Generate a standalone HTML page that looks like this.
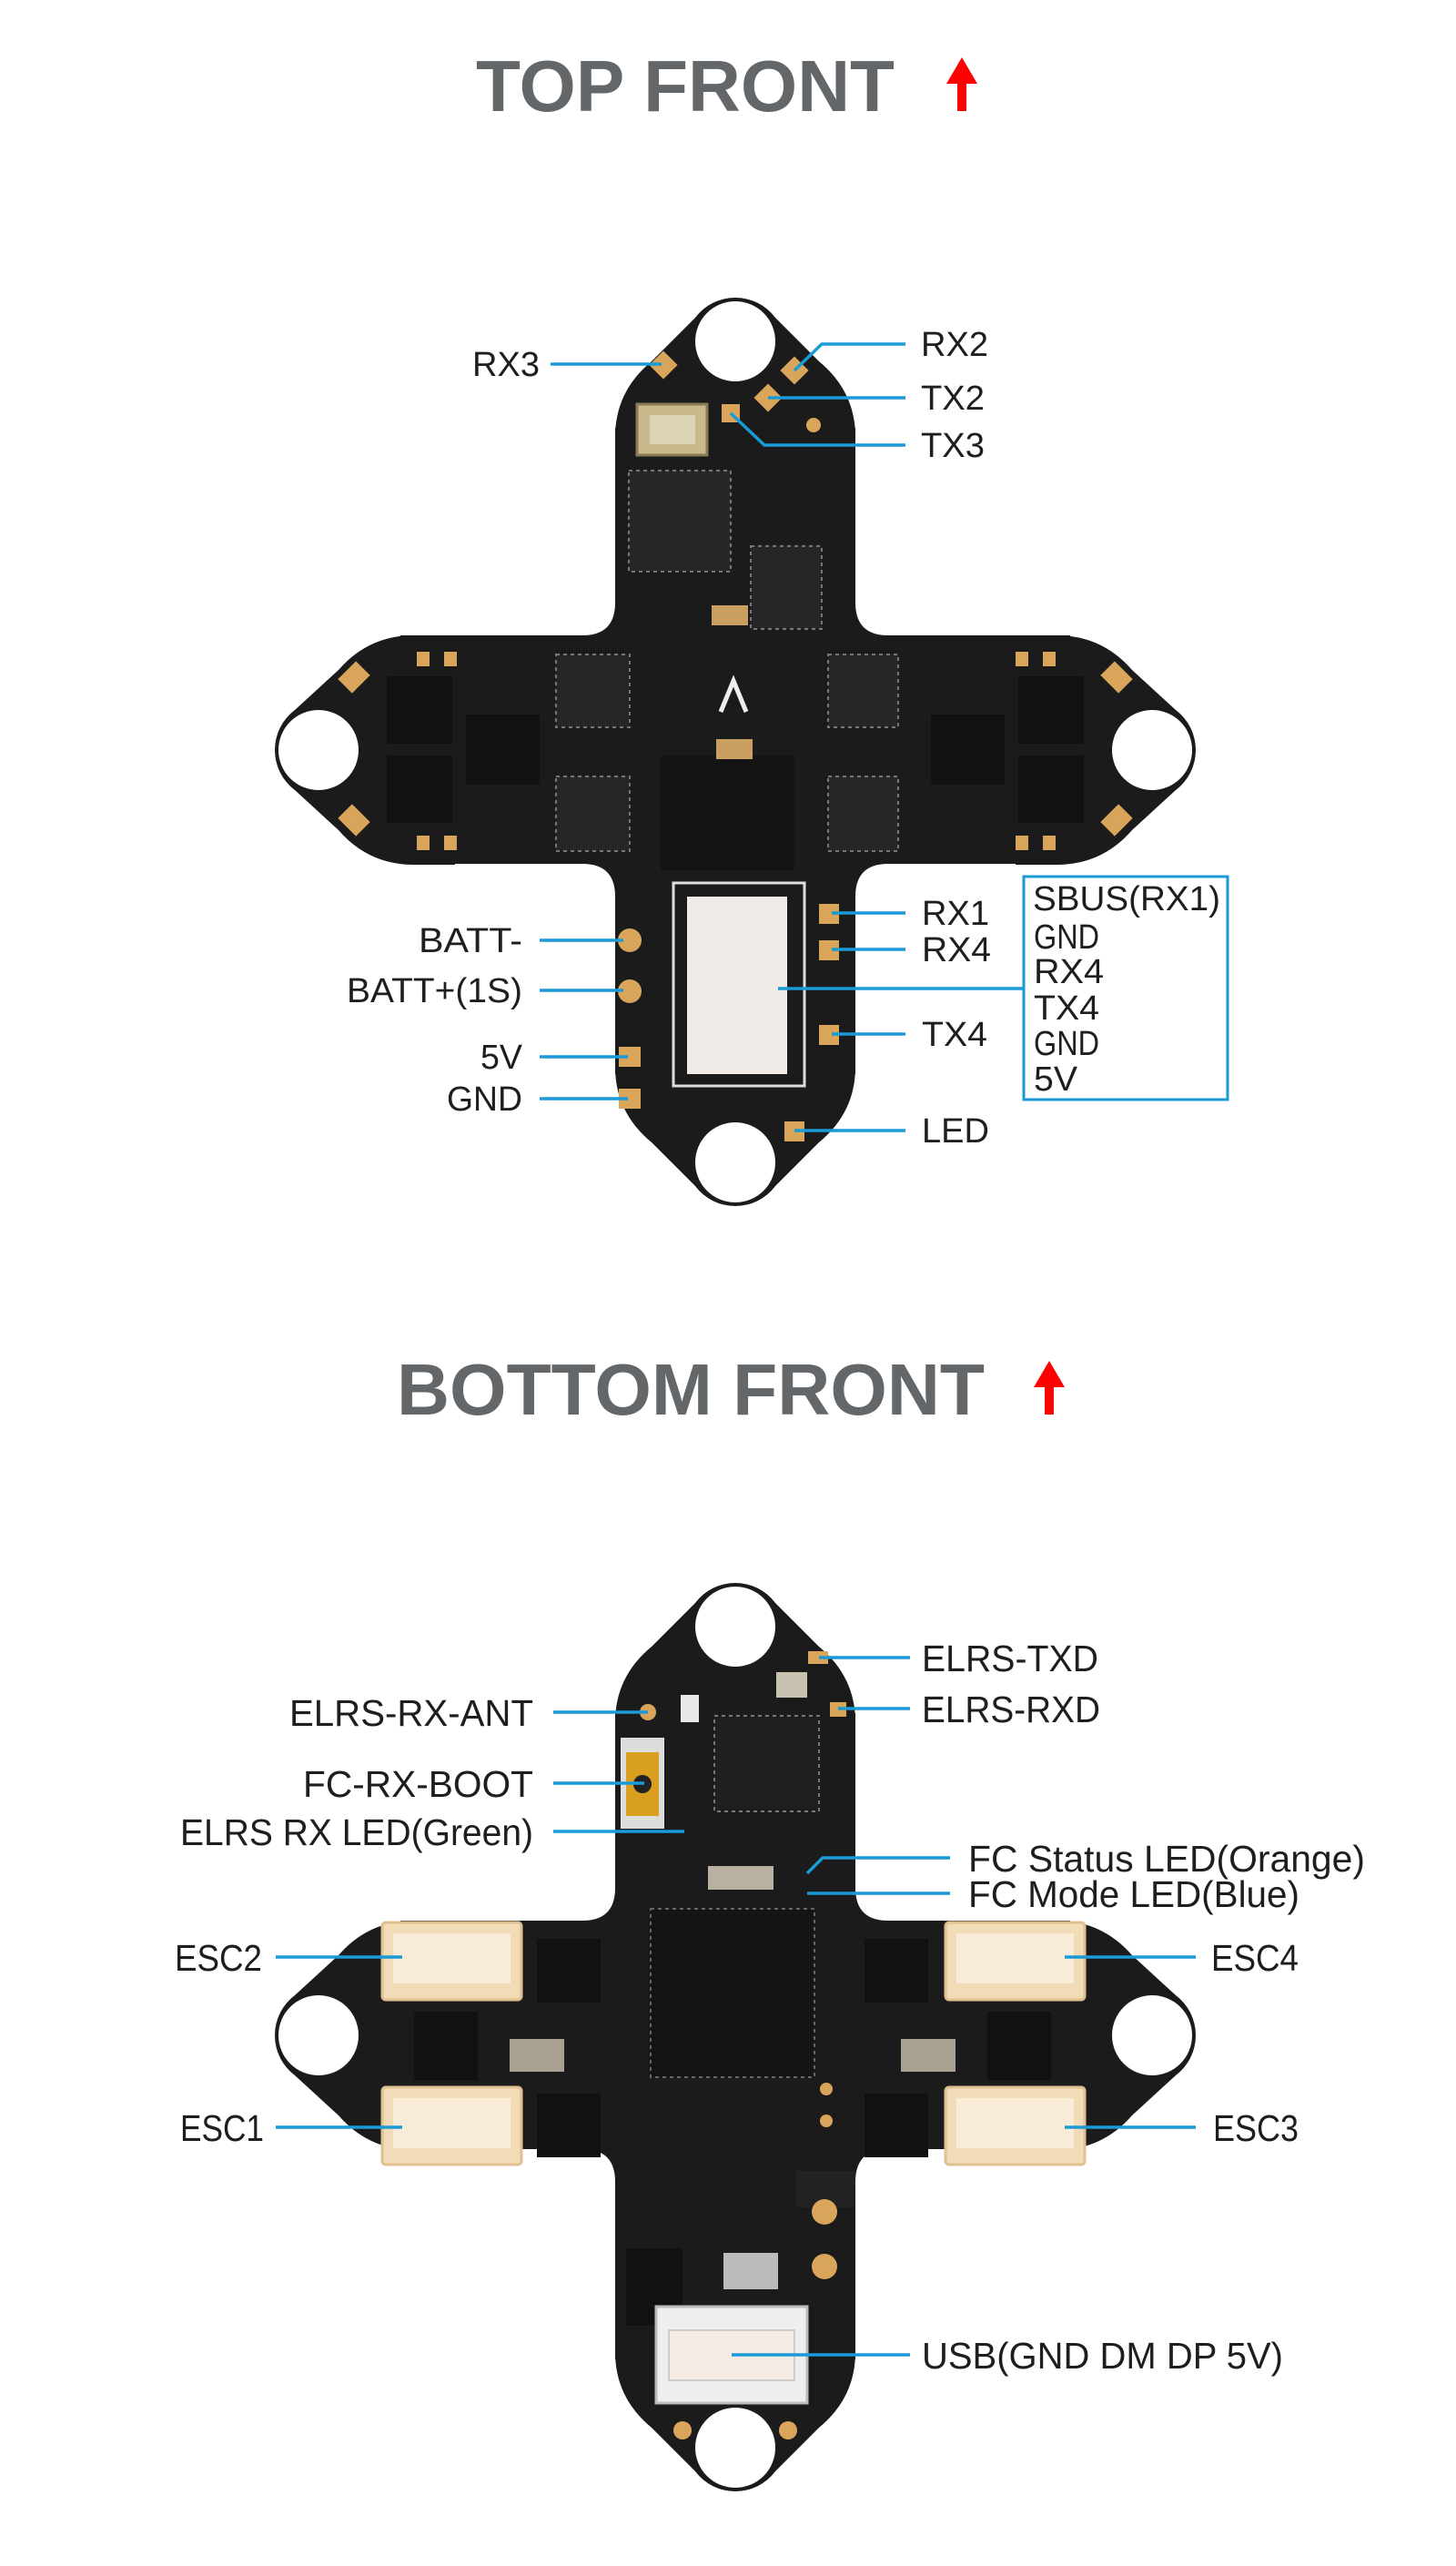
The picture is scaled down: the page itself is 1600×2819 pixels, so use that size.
<!DOCTYPE html>
<html><head><meta charset="utf-8"><style>
html,body{margin:0;padding:0;background:#fff;}
svg{display:block;}
text{font-family:"Liberation Sans",sans-serif;fill:#1e1e1e;}
.t{font-size:38px;}
.b{font-size:41px;}
.ttl{font-weight:bold;fill:#63676a;font-size:80px;}
.ln{stroke:#1a9ad6;stroke-width:3.5;fill:none;}
</style></head><body>
<svg width="1600" height="2819" viewBox="0 0 1600 2819" xmlns="http://www.w3.org/2000/svg">
<defs>
<path id="lv" d="M -132 150 L -132 105 Q -132 55 -92 22 L -44 -26 A 55 55 0 0 1 44 -26 L 92 22 Q 132 55 132 105 L 132 150 Z"/>
<path id="lh" d="M -126 150 L -126 105 Q -126 55 -88 22 L -44 -26 A 55 55 0 0 1 44 -26 L 88 22 Q 126 55 126 105 L 126 150 Z"/>
<g id="board">
 <g fill="#1b1b1b">
  <rect x="676" y="470" width="264" height="710"/>
  <rect x="440" y="698" width="736" height="251"/>
  <use href="#lv" transform="translate(808,375)"/>
  <use href="#lv" transform="translate(808,1277) rotate(180)"/>
  <use href="#lh" transform="translate(350,824) rotate(-90)"/>
  <use href="#lh" transform="translate(1266,824) rotate(90)"/>
  <path d="M 640 698 L 676 698 L 676 662 Q 676 698 640 698 Z"/>
  <path d="M 976 698 L 940 698 L 940 662 Q 940 698 976 698 Z"/>
  <path d="M 640 949 L 676 949 L 676 985 Q 676 949 640 949 Z"/>
  <path d="M 976 949 L 940 949 L 940 985 Q 940 949 976 949 Z"/>
 </g>
 <g fill="#fff">
  <circle cx="808" cy="375" r="44"/>
  <circle cx="808" cy="1277" r="44"/>
  <circle cx="350" cy="824" r="44"/>
  <circle cx="1266" cy="824" r="44"/>
 </g>
</g>
</defs>

<!-- TOP TITLE -->
<text x="523" y="122" class="ttl" textLength="460" lengthAdjust="spacingAndGlyphs">TOP FRONT</text>
<path d="M1052 122 L1052 92 L1040 92 L1057 63 L1074 92 L1062 92 L1062 122 Z" fill="#f00"/>

<!-- TOP BOARD -->
<use href="#board"/>
<g>
 <rect x="700" y="444" width="77" height="56" fill="#c9b98c" stroke="#8a7a55" stroke-width="3"/>
 <rect x="714" y="456" width="50" height="32" fill="#ddd3b5"/>
 <rect x="691" y="517" width="112" height="111" fill="#262626" stroke="#777" stroke-width="2" stroke-dasharray="4 4"/>
 <rect x="825" y="600" width="78" height="91" fill="#262626" stroke="#777" stroke-width="2" stroke-dasharray="4 4"/>
 <rect x="726" y="830" width="147" height="126" fill="#141414"/>
 <rect x="425" y="743" width="72" height="74" fill="#111"/>
 <rect x="425" y="830" width="72" height="74" fill="#111"/>
 <rect x="512" y="785" width="81" height="77" fill="#111"/>
 <rect x="1119" y="743" width="72" height="74" fill="#111"/>
 <rect x="1119" y="830" width="72" height="74" fill="#111"/>
 <rect x="1023" y="785" width="81" height="77" fill="#111"/>
 <rect x="611" y="719" width="81" height="80" fill="#262626" stroke="#777" stroke-width="2" stroke-dasharray="4 4"/>
 <rect x="611" y="853" width="81" height="82" fill="#262626" stroke="#777" stroke-width="2" stroke-dasharray="4 4"/>
 <rect x="910" y="719" width="77" height="80" fill="#262626" stroke="#777" stroke-width="2" stroke-dasharray="4 4"/>
 <rect x="910" y="853" width="77" height="82" fill="#262626" stroke="#777" stroke-width="2" stroke-dasharray="4 4"/>
 <rect x="782" y="665" width="40" height="22" fill="#c9a060"/>
 <rect x="787" y="812" width="40" height="22" fill="#c9a060"/>
 <path d="M 792 782 L 806 748 L 820 782" stroke="#eee" stroke-width="5" fill="none"/>
 <rect x="740" y="970" width="144" height="223" fill="none" stroke="#ddd" stroke-width="3"/>
 <rect x="755" y="985" width="110" height="195" fill="#f0ebe6"/>
 <g fill="#d9a55a">
  <rect x="718" y="390" width="22" height="22" transform="rotate(45 729 401)"/>
  <rect x="862" y="396" width="22" height="22" transform="rotate(45 873 407)"/>
  <rect x="833" y="426" width="22" height="22" transform="rotate(45 844 437)"/>
  <rect x="793" y="444" width="20" height="20"/>
  <circle cx="894" cy="467" r="8"/>
  <circle cx="692" cy="1033" r="13"/><circle cx="692" cy="1089" r="13"/>
  <rect x="680" y="1150" width="24" height="22"/><rect x="680" y="1196" width="24" height="22"/>
  <rect x="900" y="993" width="22" height="22"/><rect x="900" y="1033" width="22" height="22"/>
  <rect x="900" y="1126" width="22" height="22"/><rect x="862" y="1232" width="22" height="22"/>
  <rect x="378" y="730" width="22" height="28" transform="rotate(45 389 744)"/>
  <rect x="378" y="887" width="22" height="28" transform="rotate(-45 389 901)"/>
  <rect x="1216" y="730" width="22" height="28" transform="rotate(-45 1227 744)"/>
  <rect x="1216" y="887" width="22" height="28" transform="rotate(45 1227 901)"/>
  <rect x="458" y="716" width="14" height="16"/><rect x="488" y="716" width="14" height="16"/>
  <rect x="458" y="918" width="14" height="16"/><rect x="488" y="918" width="14" height="16"/>
  <rect x="1116" y="716" width="14" height="16"/><rect x="1146" y="716" width="14" height="16"/>
  <rect x="1116" y="918" width="14" height="16"/><rect x="1146" y="918" width="14" height="16"/>
 </g>
</g>
<!-- top labels -->
<g class="ln">
 <path d="M605 400 H727"/>
 <path d="M873 407 L903 378 H995"/>
 <path d="M844 437 H995"/>
 <path d="M803 454 L840 489 H995"/>
 <path d="M914 1003 H995"/>
 <path d="M914 1043 H995"/>
 <path d="M855 1086 H1125"/>
 <path d="M914 1136 H995"/>
 <path d="M873 1242 H995"/>
 <path d="M593 1033 H685"/>
 <path d="M593 1088 H685"/>
 <path d="M593 1161 H690"/>
 <path d="M593 1207 H690"/>
</g>
<rect x="1125" y="963" width="224" height="245" fill="none" stroke="#1a9ad6" stroke-width="3"/>
<g class="t">
 <text x="519" y="413" textLength="74" lengthAdjust="spacingAndGlyphs">RX3</text>
 <text x="1012" y="391" textLength="74" lengthAdjust="spacingAndGlyphs">RX2</text>
 <text x="1012" y="450" textLength="70" lengthAdjust="spacingAndGlyphs">TX2</text>
 <text x="1012" y="502" textLength="70" lengthAdjust="spacingAndGlyphs">TX3</text>
 <text x="1013" y="1016" textLength="74" lengthAdjust="spacingAndGlyphs">RX1</text>
 <text x="1013" y="1056" textLength="76" lengthAdjust="spacingAndGlyphs">RX4</text>
 <text x="1013" y="1149" textLength="72" lengthAdjust="spacingAndGlyphs">TX4</text>
 <text x="1013" y="1255" textLength="74" lengthAdjust="spacingAndGlyphs">LED</text>
 <text x="460" y="1046" textLength="114" lengthAdjust="spacingAndGlyphs">BATT-</text>
 <text x="381" y="1101" textLength="193" lengthAdjust="spacingAndGlyphs">BATT+(1S)</text>
 <text x="528" y="1174" textLength="46" lengthAdjust="spacingAndGlyphs">5V</text>
 <text x="491" y="1220" textLength="83" lengthAdjust="spacingAndGlyphs">GND</text>
 <text x="1135" y="1000" textLength="206" lengthAdjust="spacingAndGlyphs">SBUS(RX1)</text>
 <text x="1136" y="1042" textLength="72" lengthAdjust="spacingAndGlyphs">GND</text>
 <text x="1136" y="1080" textLength="77" lengthAdjust="spacingAndGlyphs">RX4</text>
 <text x="1136" y="1120" textLength="72" lengthAdjust="spacingAndGlyphs">TX4</text>
 <text x="1136" y="1159" textLength="72" lengthAdjust="spacingAndGlyphs">GND</text>
 <text x="1136" y="1198" textLength="48" lengthAdjust="spacingAndGlyphs">5V</text>
</g>

<!-- BOTTOM TITLE -->
<text x="436" y="1554" class="ttl" textLength="646" lengthAdjust="spacingAndGlyphs">BOTTOM FRONT</text>
<path d="M1148 1554 L1148 1524 L1136 1524 L1153 1495 L1170 1524 L1158 1524 L1158 1554 Z" fill="#f00"/>

<!-- BOTTOM BOARD -->
<use href="#board" transform="translate(0,1412)"/>
<g>
 <rect x="715" y="2097" width="180" height="185" fill="#141414" stroke="#666" stroke-width="2" stroke-dasharray="4 4"/>
 <rect x="785" y="1885" width="115" height="105" fill="#1f1f1f" stroke="#777" stroke-width="2" stroke-dasharray="4 4"/>
 <rect x="778" y="2050" width="72" height="26" fill="#b8b0a0"/>
 <rect x="853" y="1837" width="34" height="28" fill="#c9c2b0"/>
 <rect x="748" y="1862" width="20" height="30" fill="#e8e8e8"/>
 <rect x="682" y="1909" width="48" height="100" fill="#ddd"/>
 <rect x="688" y="1925" width="36" height="70" fill="#d9a020"/>
 <circle cx="706" cy="1960" r="10" fill="#222"/>
 <rect x="590" y="2130" width="70" height="70" fill="#111"/>
 <rect x="590" y="2300" width="70" height="70" fill="#111"/>
 <rect x="455" y="2210" width="70" height="75" fill="#111"/>
 <rect x="950" y="2130" width="70" height="70" fill="#111"/>
 <rect x="950" y="2300" width="70" height="70" fill="#111"/>
 <rect x="1085" y="2210" width="70" height="75" fill="#111"/>
 <rect x="560" y="2240" width="60" height="36" fill="#a8a090"/>
 <rect x="990" y="2240" width="60" height="36" fill="#a8a090"/>
 <rect x="688" y="2470" width="62" height="85" fill="#111"/>
 <rect x="795" y="2475" width="60" height="40" fill="#bbb"/>
 <rect x="875" y="2385" width="65" height="40" fill="#222"/>
 <g fill="#f2dcb8" stroke="#e0c090" stroke-width="3">
  <rect x="420" y="2112" width="153" height="85" rx="4"/>
  <rect x="420" y="2293" width="153" height="85" rx="4"/>
  <rect x="1039" y="2112" width="153" height="85" rx="4"/>
  <rect x="1039" y="2293" width="153" height="85" rx="4"/>
 </g>
 <g fill="#f8ecd8">
  <rect x="432" y="2124" width="129" height="55"/>
  <rect x="432" y="2305" width="129" height="55"/>
  <rect x="1051" y="2124" width="129" height="55"/>
  <rect x="1051" y="2305" width="129" height="55"/>
 </g>
 <rect x="721" y="2534" width="166" height="106" fill="#eee" stroke="#bbb" stroke-width="3"/>
 <rect x="735" y="2560" width="138" height="55" fill="#f4ece4" stroke="#ccc" stroke-width="2"/>
 <g fill="#d9a55a">
  <circle cx="712" cy="1881" r="9"/>
  <rect x="888" y="1814" width="22" height="14"/>
  <rect x="912" y="1870" width="18" height="16"/>
  <circle cx="906" cy="2430" r="14"/><circle cx="906" cy="2490" r="14"/>
  <circle cx="750" cy="2670" r="10"/><circle cx="866" cy="2670" r="10"/>
  <circle cx="908" cy="2330" r="7"/><circle cx="908" cy="2295" r="7"/>
 </g>
</g>
<!-- bottom labels -->
<g class="ln">
 <path d="M900 1821 H1000"/>
 <path d="M921 1877 H1000"/>
 <path d="M608 1881 H712"/>
 <path d="M608 1959 H708"/>
 <path d="M608 2012 H752"/>
 <path d="M887 2058 L904 2041 H1044"/>
 <path d="M887 2080 H1044"/>
 <path d="M303 2150 H442"/>
 <path d="M1170 2150 H1314"/>
 <path d="M303 2337 H442"/>
 <path d="M1170 2337 H1314"/>
 <path d="M804 2587 H1000"/>
</g>
<g class="b">
 <text x="1013" y="1836" textLength="194" lengthAdjust="spacingAndGlyphs">ELRS-TXD</text>
 <text x="1013" y="1892" textLength="196" lengthAdjust="spacingAndGlyphs">ELRS-RXD</text>
 <text x="318" y="1896" textLength="268" lengthAdjust="spacingAndGlyphs">ELRS-RX-ANT</text>
 <text x="333" y="1974" textLength="253" lengthAdjust="spacingAndGlyphs">FC-RX-BOOT</text>
 <text x="198" y="2027" textLength="388" lengthAdjust="spacingAndGlyphs">ELRS RX LED(Green)</text>
 <text x="1064" y="2056" textLength="436" lengthAdjust="spacingAndGlyphs">FC Status LED(Orange)</text>
 <text x="1064" y="2095" textLength="364" lengthAdjust="spacingAndGlyphs">FC Mode LED(Blue)</text>
 <text x="192" y="2165" textLength="96" lengthAdjust="spacingAndGlyphs">ESC2</text>
 <text x="1331" y="2165" textLength="96" lengthAdjust="spacingAndGlyphs">ESC4</text>
 <text x="198" y="2352" textLength="92" lengthAdjust="spacingAndGlyphs">ESC1</text>
 <text x="1333" y="2352" textLength="94" lengthAdjust="spacingAndGlyphs">ESC3</text>
 <text x="1013" y="2602" textLength="397" lengthAdjust="spacingAndGlyphs">USB(GND DM DP 5V)</text>
</g>
</svg>
</body></html>
